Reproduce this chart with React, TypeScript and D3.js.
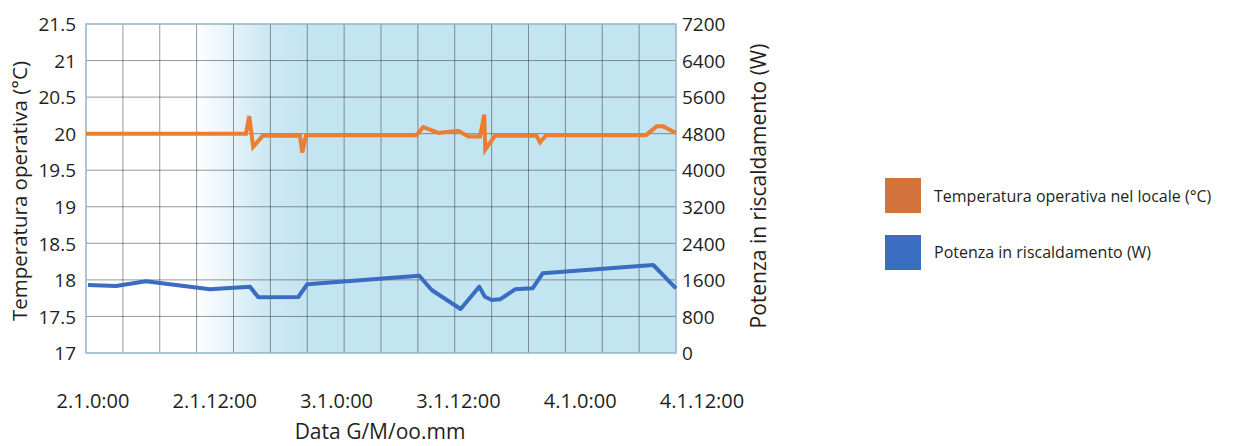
import * as d3 from "d3";

// time axis in hours from 2.1 0:00
const xLabels = ["2.1.0:00", "2.1.12:00", "3.1.0:00", "3.1.12:00", "4.1.0:00", "4.1.12:00"];
const tempTicks = [17, 17.5, 18, 18.5, 19, 19.5, 20, 20.5, 21, 21.5];
const powerTicks = [0, 800, 1600, 2400, 3200, 4000, 4800, 5600, 6400, 7200];

const hoursTemp = [0, 16.27, 16.6, 17.0, 17.97, 21.76, 22.0, 22.37, 33.63, 34.3, 35.83, 37.86, 38.88, 40.07, 40.5, 40.6, 41.59, 45.83, 46.17, 46.78, 56.95, 58.03, 58.7, 60];
const temperature = [20.0, 20.0, 20.24, 19.82, 19.97, 19.97, 19.74, 19.98, 19.98, 20.09, 20.01, 20.04, 19.96, 19.96, 20.26, 19.78, 19.97, 19.97, 19.88, 19.98, 19.98, 20.1, 20.1, 20.01];

const hoursPower = [0.2, 3.05, 6.1, 12.61, 16.68, 17.52, 21.59, 22.5, 33.89, 35.15, 38.1, 39.99, 40.57, 41.26, 42.1, 42.78, 43.63, 45.42, 46.44, 57.69, 60];
const power = [1488, 1466, 1569, 1394, 1451, 1219, 1226, 1504, 1692, 1379, 963, 1451, 1232, 1160, 1175, 1270, 1394, 1416, 1744, 1926, 1416];

const seriesNames = ["Temperatura operativa nel locale (°C)", "Potenza in riscaldamento (W)"];

const width = 1233;
const height = 446;
const left = 86;
const right = 676;
const top = 24;
const bottom = 353;
const font = "'Open Sans', sans-serif";
const ink = "#231f20";

export default function App() {
  const x = d3.scaleLinear([0, 60], [left, right]);
  const yT = d3.scaleLinear([17, 21.5], [bottom, top]);
  const yP = d3.scaleLinear([0, 7200], [bottom, top]);
  const xl = d3.scalePoint(xLabels, [93, 702]);
  const gridX = d3.range(0, 60.001, 3.75);

  const tempLine = d3.line<number>((_, i) => x(hoursTemp[i]), (d) => yT(d));
  const powerLine = d3.line<number>((_, i) => x(hoursPower[i]), (d) => yP(d));

  return (
    <svg width={width} height={height} style={{ position: "absolute", left: 0, top: 0 }} fontFamily={font}>
      <defs>
        <linearGradient id="bg" x1="0" x2="1" y1="0" y2="0">
          <stop offset="0.185" stopColor="#ffffff" />
          <stop offset="0.3" stopColor="#cfe9f4" />
          <stop offset="0.38" stopColor="#c3e4f1" />
          <stop offset="1" stopColor="#c3e4f1" />
        </linearGradient>
      </defs>
      <rect x={left} y={top} width={right - left} height={bottom - top} fill="url(#bg)" />
      <g stroke="#333" strokeOpacity={0.5} strokeWidth={1}>
        {gridX.map((h) => (
          <line key={h} x1={x(h)} x2={x(h)} y1={top} y2={bottom} />
        ))}
        {tempTicks.map((t) => (
          <line key={t} x1={left} x2={right} y1={yT(t)} y2={yT(t)} />
        ))}
      </g>
      <rect x={left} y={top} width={right - left} height={bottom - top} fill="none" stroke="#9fc4d6" strokeWidth={1.5} />

      <path d={powerLine(power) || ""} fill="none" stroke="#3a6cc1" strokeWidth={4} strokeLinejoin="round" />
      <path d={tempLine(temperature) || ""} fill="none" stroke="#ed7d31" strokeWidth={4} strokeLinejoin="miter" />

      <g fontSize={19} fill={ink}>
        {tempTicks.map((t) => (
          <text key={t} x={76} y={yT(t)} dy="0.38em" textAnchor="end">
            {d3.format("")(t)}
          </text>
        ))}
        {powerTicks.map((t) => (
          <text key={t} x={682} y={yP(t)} dy="0.38em" textAnchor="start">
            {t}
          </text>
        ))}
      </g>
      <g fontSize={20} fill={ink}>
        {xLabels.map((l) => (
          <text key={l} x={xl(l)} y={408} textAnchor="middle">
            {l}
          </text>
        ))}
      </g>
      <text x={380} y={439} fontSize={21} fill={ink} textAnchor="middle">
        Data G/M/oo.mm
      </text>
      <text transform="translate(27,191) rotate(-90)" fontSize={20.5} fill={ink} textAnchor="middle">
        Temperatura operativa (°C)
      </text>
      <text transform="translate(766,186) rotate(-90)" fontSize={21} fill={ink} textAnchor="middle">
        Potenza in riscaldamento (W)
      </text>

      <g fontSize={16} fill={ink}>
        <rect x={885} y={178} width={36} height={35} fill="#d2733b" />
        <text x={934} y={196} dy="0.35em">
          {seriesNames[0]}
        </text>
        <rect x={885} y={235} width={36} height={35} fill="#3b6dc0" />
        <text x={934} y={252} dy="0.35em">
          {seriesNames[1]}
        </text>
      </g>
    </svg>
  );
}
